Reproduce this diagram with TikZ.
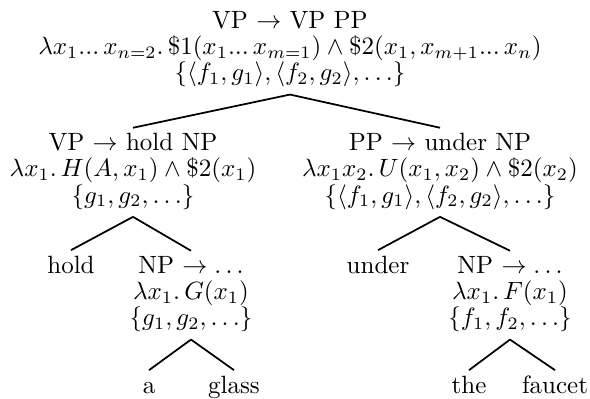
\documentclass[tikz,border=0pt]{standalone}
\begin{document}
\begin{tikzpicture}[x=0.4pt,y=-0.4pt,
  tn/.style={align=center,inner sep=0pt,anchor=north,font=\fontsize{10}{10.5}\selectfont},
  lf/.style={inner sep=0pt,anchor=base,text height=6.94pt,text depth=1.94pt},
  edge/.style={line width=0.7pt}]
\useasboundingbox (0,0) rectangle (590,398);
% nodes
\node[tn] (T) at (290,10.75) {VP $\rightarrow$ VP PP\\
  $\lambda x_1...\,x_{n=2}.\,\$1(x_1...\,x_{m=1})\wedge\$2(x_1,x_{m+1}...\,x_n)$\\
  $\{\langle f_1,g_1\rangle,\langle f_2,g_2\rangle,\ldots\}$};
\node[tn] (VL) at (133,132.75) {VP $\rightarrow$ hold NP\\
  $\lambda x_1.\,H(A,x_1)\wedge\$2(x_1)$\\
  $\{g_1,g_2,\ldots\}$};
\node[tn] (PR) at (440,132.75) {PP $\rightarrow$ under NP\\
  $\lambda x_1x_2.\,U(x_1,x_2)\wedge\$2(x_2)$\\
  $\{\langle f_1,g_1\rangle,\langle f_2,g_2\rangle,\ldots\}$};
\node[lf] (hold) at (71,273) {hold};
\node[tn] (NPL) at (191,255.75) {NP $\rightarrow\ldots$\\
  $\lambda x_1.\,G(x_1)$\\
  $\{g_1,g_2,\ldots\}$};
\node[lf] (under) at (378,273) {under};
\node[tn] (NPR) at (510,255.75) {NP $\rightarrow\ldots$\\
  $\lambda x_1.\,F(x_1)$\\
  $\{f_1,f_2,\ldots\}$};
\node[lf] (a) at (149,393) {a};
\node[lf] (glass) at (234,393) {glass};
\node[lf] (the) at (469,393) {the};
\node[lf] (faucet) at (555,393) {faucet};
% edges
\foreach \p/\c in {T/VL,T/PR,VL/hold,VL/NPL,PR/under,PR/NPR,NPL/a,NPL/glass,NPR/the,NPR/faucet}
  \draw[edge] ([yshift=-2.8pt]\p.south) -- ([yshift=2pt]\c.north);
\end{tikzpicture}
\end{document}
